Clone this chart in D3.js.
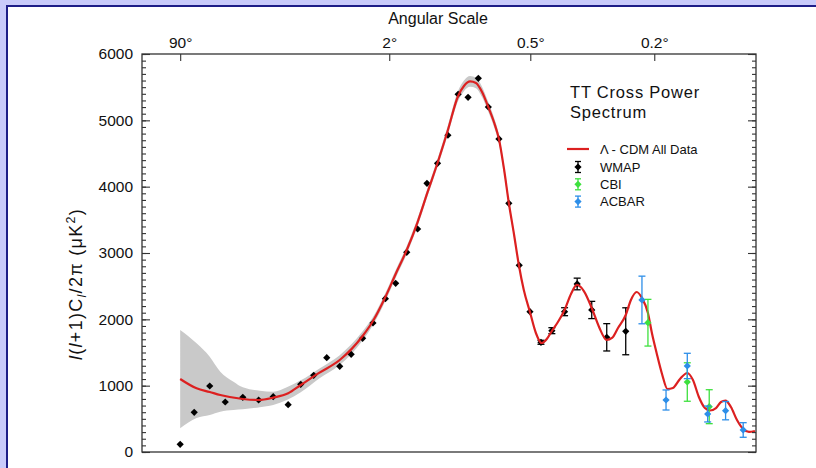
<!DOCTYPE html>
<html>
<head>
<meta charset="utf-8">
<script src="https://cdn.jsdelivr.net/npm/d3@7"></script>
<style>
  html, body { margin: 0; padding: 0; background: #c9cbfb; }
  svg { display: block; }
  text { font-family: "Liberation Sans", Arial, Helvetica, sans-serif; fill: #111; }
</style>
</head>
<body>
<svg id="chart" width="816" height="468"></svg>
<script>
// ---- Lambda-CDM best-fit model (multipole l, D_l in uK^2) ----
const curveL = [2, 3.2, 4.5, 5.8, 9.5, 13, 17, 22, 27, 36, 48, 65, 74, 86, 97, 110, 124, 138, 154, 170,
  188, 199, 211, 223, 236, 249, 263, 275, 288, 300, 314, 327, 341, 359, 377, 395, 412, 429, 450,
  474, 498, 521, 549, 582, 614, 649, 674, 703, 742, 769, 800, 829, 863, 886, 914, 947, 981, 1016, 1063,
  1113, 1153, 1196, 1241, 1279, 1327, 1367, 1404, 1450, 1502, 1557, 1609, 1665];
const curveD = [1101, 960, 905, 859, 799, 784, 819, 885, 1010, 1196, 1387, 1749, 1975, 2337, 2684, 3045, 3467, 3920, 4387, 4854,
  5367, 5518, 5586, 5563, 5427, 5216, 4975, 4719, 4251, 3754, 3272, 2819, 2442, 2111, 1794, 1643, 1704, 1824, 1960,
  2141, 2382, 2518, 2427, 2171, 1885, 1689, 1719, 1869, 2065, 2292, 2412, 2322, 2096, 1794, 1493, 1176, 950, 965, 1101,
  1191, 1085, 829, 663, 626, 663, 754, 776, 678, 482, 347, 302, 317];

// ---- cosmic variance band around the model ----
const bandL = [2, 3.2, 4.5, 5.8, 7.8, 9.5, 13.3, 17, 21.5, 27, 36, 48, 65, 74, 86, 97, 110, 124, 138, 154,
  170, 188, 199, 211, 223, 236, 249, 263, 275, 288, 300, 314, 327];
const bandHi = [1839, 1639, 1437, 1211, 1060, 975, 924, 909, 975, 1080, 1260, 1460, 1820, 2035, 2397, 2744, 3105, 3527, 3980, 4450,
  4925, 5445, 5600, 5670, 5645, 5505, 5290, 5045, 4785, 4310, 3810, 3320, 2860];
const bandLo = [357, 513, 558, 608, 633, 644, 674, 709, 784, 900, 1110, 1310, 1680, 1915, 2277, 2624, 2985, 3407, 3860, 4325,
  4785, 5290, 5440, 5505, 5485, 5350, 5145, 4905, 4655, 4190, 3700, 3225, 2780];

// ---- WMAP binned spectrum ----
const wmapL = [2, 3, 4.5, 6.5, 9.5, 13, 17, 22, 27, 33, 40, 48, 56, 65, 74, 86, 97, 110, 124, 137,
  153, 170, 188, 207, 228, 250, 275, 300, 328, 359, 393, 429, 474, 522, 582, 649, 742];
const wmapD = [116, 598, 995, 754, 825, 784, 834, 713, 1021, 1156, 1422, 1292, 1473, 1714, 1945, 2311, 2543, 3011, 3362, 4051,
  4352, 4775, 5393, 5347, 5634, 5201, 4719, 3749, 2815, 2115, 1654, 1829, 2115, 2533, 2141, 1729, 1820];
const wmapErr = [0, 0, 0, 0, 0, 0, 0, 0, 0, 0, 0, 0, 0, 0, 0, 0, 0, 0, 0, 0,
  0, 0, 0, 0, 0, 0, 0, 0, 0, 0, 30, 45, 60, 88, 130, 206, 354];

// ---- CBI ----
const cbiL = [863, 1113, 1274];
const cbiD = [1949, 1055, 683];
const cbiErr = [352, 290, 256];

// ---- ACBAR ----
const acbarL = [829, 972, 1113, 1262, 1405, 1557];
const acbarD = [2292, 784, 1297, 573, 623, 332];
const acbarErr = [359, 151, 191, 120, 138, 110];

// ---- axis ticks ----
const angleTicks = [90, 2, 0.5, 0.2];          // degrees, top axis
const yMajorTicks = [0, 1000, 2000, 3000, 4000, 5000, 6000];

const legendItems = [
  { label: "WMAP", color: "#000000" },
  { label: "CBI", color: "#3ee03e" },
  { label: "ACBAR", color: "#2d8ee8" }
];

const COLORS = { model: "#dc2020", band: "#c9c9c9", wmap: "#000000", cbi: "#3ee03e", acbar: "#2d8ee8" };

const W = 816, H = 468;
const plot = { left: 142, right: 756, top: 54, bottom: 452 };

const svg = d3.select("#chart");

// page frame
svg.append("rect").attr("x", 0).attr("y", 0).attr("width", W).attr("height", H).attr("fill", "#c9cbfb");
svg.append("rect").attr("x", 6).attr("y", 5).attr("width", W).attr("height", H).attr("fill", "#1e1e88");
svg.append("rect").attr("x", 8).attr("y", 7).attr("width", W).attr("height", H).attr("fill", "#ffffff");

// scales: multipole axis is compressed with a quarter-power law
const x = d3.scalePow().exponent(0.25).domain([0.507, 1675]).range([plot.left, plot.right]);
const y = d3.scaleLinear().domain([0, 6000]).range([plot.bottom, plot.top]);

const g = svg.append("g");

// clip to plot area
svg.append("clipPath").attr("id", "plotClip")
  .append("rect").attr("x", plot.left).attr("y", plot.top)
  .attr("width", plot.right - plot.left).attr("height", plot.bottom - plot.top);

const body = g.append("g").attr("clip-path", "url(#plotClip)");

// band
const bandData = bandL.map((l, i) => ({ l, hi: bandHi[i], lo: bandLo[i] }));
body.append("path")
  .datum(bandData)
  .attr("fill", COLORS.band)
  .attr("d", d3.area().x(d => x(d.l)).y0(d => y(d.lo)).y1(d => y(d.hi)).curve(d3.curveMonotoneX));

// error bars + diamonds
const diamond = d3.symbol().type(d3.symbolSquare).size(26);
function drawSeries(Ls, Ds, Es, color) {
  const data = Ls.map((l, i) => ({ l, d: Ds[i], e: Es[i] }));
  const grp = body.append("g");
  const eb = grp.selectAll("g.eb").data(data.filter(d => d.e > 0)).join("g")
    .attr("stroke", color).attr("stroke-width", 1.3);
  eb.append("line").attr("x1", d => x(d.l)).attr("x2", d => x(d.l))
    .attr("y1", d => y(d.d + d.e)).attr("y2", d => y(d.d - d.e));
  eb.append("line").attr("x1", d => x(d.l) - 3.5).attr("x2", d => x(d.l) + 3.5)
    .attr("y1", d => y(d.d + d.e)).attr("y2", d => y(d.d + d.e));
  eb.append("line").attr("x1", d => x(d.l) - 3.5).attr("x2", d => x(d.l) + 3.5)
    .attr("y1", d => y(d.d - d.e)).attr("y2", d => y(d.d - d.e));
  grp.selectAll("path.pt").data(data).join("path")
    .attr("class", "pt")
    .attr("d", diamond)
    .attr("fill", color)
    .attr("transform", d => `translate(${x(d.l)},${y(d.d)}) rotate(45)`);
}

drawSeries(wmapL, wmapD, wmapErr, COLORS.wmap);

// model curve
body.append("path")
  .datum(curveL.map((l, i) => ({ l, d: curveD[i] })))
  .attr("fill", "none")
  .attr("stroke", COLORS.model)
  .attr("stroke-width", 2.2)
  .attr("d", d3.line().x(d => x(d.l)).y(d => y(d.d)).curve(d3.curveMonotoneX));

drawSeries(cbiL, cbiD, cbiErr, COLORS.cbi);
drawSeries(acbarL, acbarD, acbarErr, COLORS.acbar);

// plot frame
g.append("rect").attr("x", plot.left).attr("y", plot.top)
  .attr("width", plot.right - plot.left).attr("height", plot.bottom - plot.top)
  .attr("fill", "none").attr("stroke", "#333").attr("stroke-width", 1.3);

// y axes (ticks pointing inward on both sides)
const minorTicks = d3.range(0, 6001, 100);
function styleAxis(sel) {
  sel.select(".domain").remove();
  sel.selectAll(".tick line").attr("stroke", "#333").attr("stroke-width", 1.1);
  sel.selectAll(".tick text").attr("font-size", "15.5px").attr("fill", "#111")
    .attr("font-family", '"Liberation Sans", Arial, sans-serif');
}
g.append("g").attr("transform", `translate(${plot.left},0)`)
  .call(d3.axisLeft(y).tickValues(minorTicks).tickSize(-4).tickFormat(""))
  .call(styleAxis);
g.append("g").attr("transform", `translate(${plot.left},0)`)
  .call(d3.axisLeft(y).tickValues(yMajorTicks).tickSize(-8).tickPadding(9).tickFormat(d3.format("d")))
  .call(styleAxis);
g.append("g").attr("transform", `translate(${plot.right},0)`)
  .call(d3.axisRight(y).tickValues(minorTicks).tickSize(-4).tickFormat(""))
  .call(styleAxis);
g.append("g").attr("transform", `translate(${plot.right},0)`)
  .call(d3.axisRight(y).tickValues(yMajorTicks).tickSize(-8).tickFormat(""))
  .call(styleAxis);

// top angular-scale axis: theta (deg) ~ 180 / l
g.append("g").attr("transform", `translate(0,${plot.top})`)
  .call(d3.axisTop(x).tickValues(angleTicks.map(a => 180 / a)).tickSize(-7).tickPadding(6)
    .tickFormat(l => `${180 / l}°`))
  .call(styleAxis);

g.append("text").attr("x", 438).attr("y", 24).attr("text-anchor", "middle")
  .attr("font-size", "16px").text("Angular Scale");

// y-axis title
const yt = g.append("text")
  .attr("transform", "translate(82,284) rotate(-90)")
  .attr("text-anchor", "middle")
  .attr("font-size", "18px")
  .attr("letter-spacing", "1.3px");
yt.append("tspan").attr("font-style", "italic").text("l");
yt.append("tspan").text("(");
yt.append("tspan").attr("font-style", "italic").text("l");
yt.append("tspan").text("+1)C");
yt.append("tspan").attr("font-style", "italic").attr("font-size", "12.5px").attr("dy", 4).text("l");
yt.append("tspan").attr("dy", -4).text("/2π (μK");
yt.append("tspan").attr("font-size", "12.5px").attr("dy", -7).text("2");
yt.append("tspan").attr("dy", 7).text(")");

// title block
g.append("text").attr("x", 570).attr("y", 98).attr("font-size", "16.5px")
  .attr("letter-spacing", "0.8px").text("TT Cross Power");
g.append("text").attr("x", 570).attr("y", 118).attr("font-size", "16.5px")
  .attr("letter-spacing", "0.8px").text("Spectrum");

// legend
const lg = g.append("g");
lg.append("line").attr("x1", 567).attr("x2", 589).attr("y1", 149).attr("y2", 149)
  .attr("stroke", COLORS.model).attr("stroke-width", 2.2);
lg.append("text").attr("x", 600).attr("y", 153.5).attr("font-size", "13px").text("Λ - CDM All Data");
legendItems.forEach((it, i) => {
  const cy = 167 + i * 17.3;
  const ig = lg.append("g").attr("stroke", it.color).attr("stroke-width", 1.3);
  ig.append("line").attr("x1", 578).attr("x2", 578).attr("y1", cy - 5.5).attr("y2", cy + 5.5);
  ig.append("line").attr("x1", 575).attr("x2", 581).attr("y1", cy - 5.5).attr("y2", cy - 5.5);
  ig.append("line").attr("x1", 575).attr("x2", 581).attr("y1", cy + 5.5).attr("y2", cy + 5.5);
  lg.append("path").attr("d", diamond).attr("fill", it.color)
    .attr("transform", `translate(578,${cy}) rotate(45)`);
  lg.append("text").attr("x", 600).attr("y", cy + 4.5).attr("font-size", "13px").text(it.label);
});
</script>
</body>
</html>
